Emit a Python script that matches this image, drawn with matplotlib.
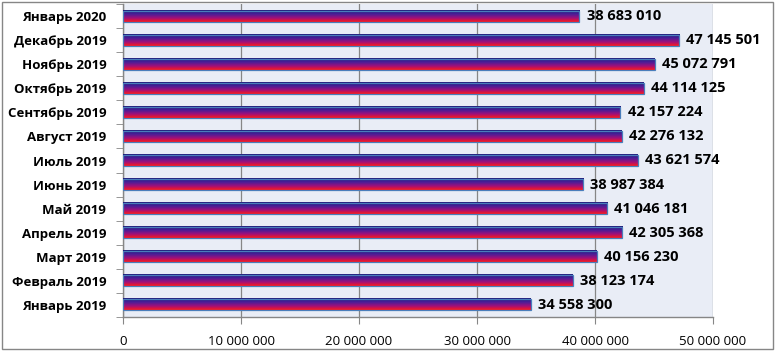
import matplotlib.pyplot as plt
import numpy as np
from matplotlib.colors import LinearSegmentedColormap
from matplotlib.patches import Rectangle

months = ["Январь 2020", "Декабрь 2019", "Ноябрь 2019", "Октябрь 2019",
          "Сентябрь 2019", "Август 2019", "Июль 2019", "Июнь 2019",
          "Май 2019", "Апрель 2019", "Март 2019", "Февраль 2019", "Январь 2019"]
values = [38683010, 47145501, 45072791, 44114125, 42157224, 42276132,
          43621574, 38987384, 41046181, 42305368, 40156230, 38123174, 34558300]
xticks = [0, 10000000, 20000000, 30000000, 40000000, 50000000]


def fmt(v):
    return f"{v:,}".replace(",", " ")


plt.rcParams['font.family'] = ['Open Sans', 'DejaVu Sans']

fig = plt.figure(figsize=(7.75, 3.51), dpi=100)
ax = fig.add_axes([123 / 775, 1 - 317 / 351, 590 / 775, 313 / 351])
ax.set_facecolor('#E9EDF6')

grad = LinearSegmentedColormap.from_list(
    'bar', ['#1C1C78', '#4A1E98', '#A0107A', '#FF1A1A'])
img = np.linspace(0, 1, 64).reshape(-1, 1)
h = 0.46

for i, v in enumerate(values):
    ax.imshow(img, cmap=grad, aspect='auto', extent=(0, v, i + h / 2, i - h / 2),
              zorder=3, interpolation='bilinear')
    ax.add_patch(Rectangle((0, i - h / 2), v, h, fill=False,
                           edgecolor='#4A7EBB', lw=0.9, zorder=4))
    ax.text(v + 600000, i, fmt(v), va='center', ha='left',
            fontsize=10.5, fontweight='bold', zorder=5)

ax.set_xlim(0, 50000000)
ax.set_ylim(len(values) - 0.5, -0.5)
ax.set_xticks(xticks)
ax.set_xticklabels([fmt(t) for t in xticks], fontsize=9.5)
ax.set_yticks(range(len(months)))
ax.set_yticklabels(months, fontsize=9.5, fontweight='bold')
ax.set_yticks(np.arange(-0.5, len(months)), minor=True)
ax.tick_params(axis='y', which='major', length=0, pad=12)
ax.tick_params(axis='y', which='minor', length=5, color='#868686', direction='out')
ax.tick_params(axis='x', length=5, color='#868686', pad=8)
ax.xaxis.grid(True, color='#868686', lw=0.9)
ax.set_axisbelow(True)
for s in ['top', 'right']:
    ax.spines[s].set_visible(False)
for s in ['left', 'bottom']:
    ax.spines[s].set_color('#868686')
    ax.spines[s].set_linewidth(1.0)

fig.patches.append(Rectangle((2 / 775, 2 / 351), 771 / 775, 347 / 351,
                             transform=fig.transFigure, fill=False,
                             edgecolor='#868686', lw=1.0))

fig.savefig('out.png', dpi=100)
